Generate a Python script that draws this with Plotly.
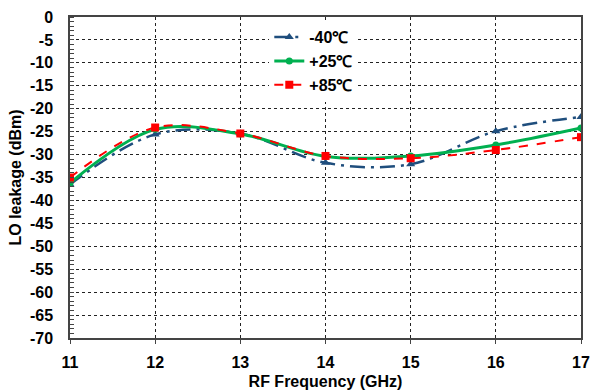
import plotly.graph_objects as go

freq = [11, 12, 13, 14, 15, 16, 17]
m40 = [-36.5, -25.6, -25.4, -31.8, -32.1, -24.9, -21.8]
p25 = [-36.2, -24.5, -25.5, -30.4, -30.3, -27.9, -24.2]
p85 = [-35.0, -24.1, -25.4, -30.3, -30.8, -29.0, -26.2]
names = ["-40℃", "+25℃", "+85℃"]
yticks = list(range(0, -75, -5))
ylabels = [str(v) for v in yticks]
xticks = freq
xlabels = [str(v) for v in xticks]

font = dict(family="Liberation Sans, Arial", size=16, color="black", weight="bold")

fig = go.Figure()
fig.add_trace(go.Scatter(x=freq, y=m40, name=names[0], mode="lines+markers",
                         line=dict(color="#1F4E7D", width=2.5, dash="longdashdot", shape="spline", smoothing=1),
                         marker=dict(symbol="triangle-up", size=8, color="#1F4E7D")))
fig.add_trace(go.Scatter(x=freq, y=p25, name=names[1], mode="lines+markers",
                         line=dict(color="#00B050", width=3, shape="spline", smoothing=1),
                         marker=dict(symbol="circle", size=7, color="#00B050")))
fig.add_trace(go.Scatter(x=freq, y=p85, name=names[2], mode="lines+markers",
                         line=dict(color="#FF0000", width=2, dash="dash", shape="spline", smoothing=1),
                         marker=dict(symbol="square", size=8, color="#FF0000")))

fig.update_layout(
    width=592, height=390,
    margin=dict(l=70, r=11, t=17, b=52),
    paper_bgcolor="white", plot_bgcolor="white",
    font=font,
    legend=dict(x=0.39, y=0.99, xanchor="left", yanchor="top", bgcolor="white",
                font=font, tracegroupgap=0, itemwidth=30),
    showlegend=True,
)
fig.update_xaxes(range=[11, 17], tickmode="array", tickvals=xticks, ticktext=xlabels,
                 showgrid=True, gridcolor="#222", griddash="dot", gridwidth=1,
                 showline=True, linecolor="#444", linewidth=1.5, mirror=True,
                 ticks="outside", ticklen=4, tickcolor="#444", ticklabelstandoff=5,
                 tickfont=font, zeroline=False, automargin=False,
                 title=dict(text="RF Frequency (GHz)", font=font, standoff=7))
fig.update_yaxes(range=[-70, 0], tickmode="array", tickvals=yticks, ticktext=ylabels,
                 showgrid=True, gridcolor="#222", griddash="dot", gridwidth=1,
                 showline=True, linecolor="#444", linewidth=1.5, mirror=True,
                 ticks="", tickfont=font, zeroline=False, ticklabelstandoff=12, automargin=False,
                 minor=dict(dtick=1, ticks="inside", ticklen=4, tickcolor="#444", showgrid=False),
                 title=dict(text="LO leakage (dBm)", font=font, standoff=4))

fig.write_html("out.html")
